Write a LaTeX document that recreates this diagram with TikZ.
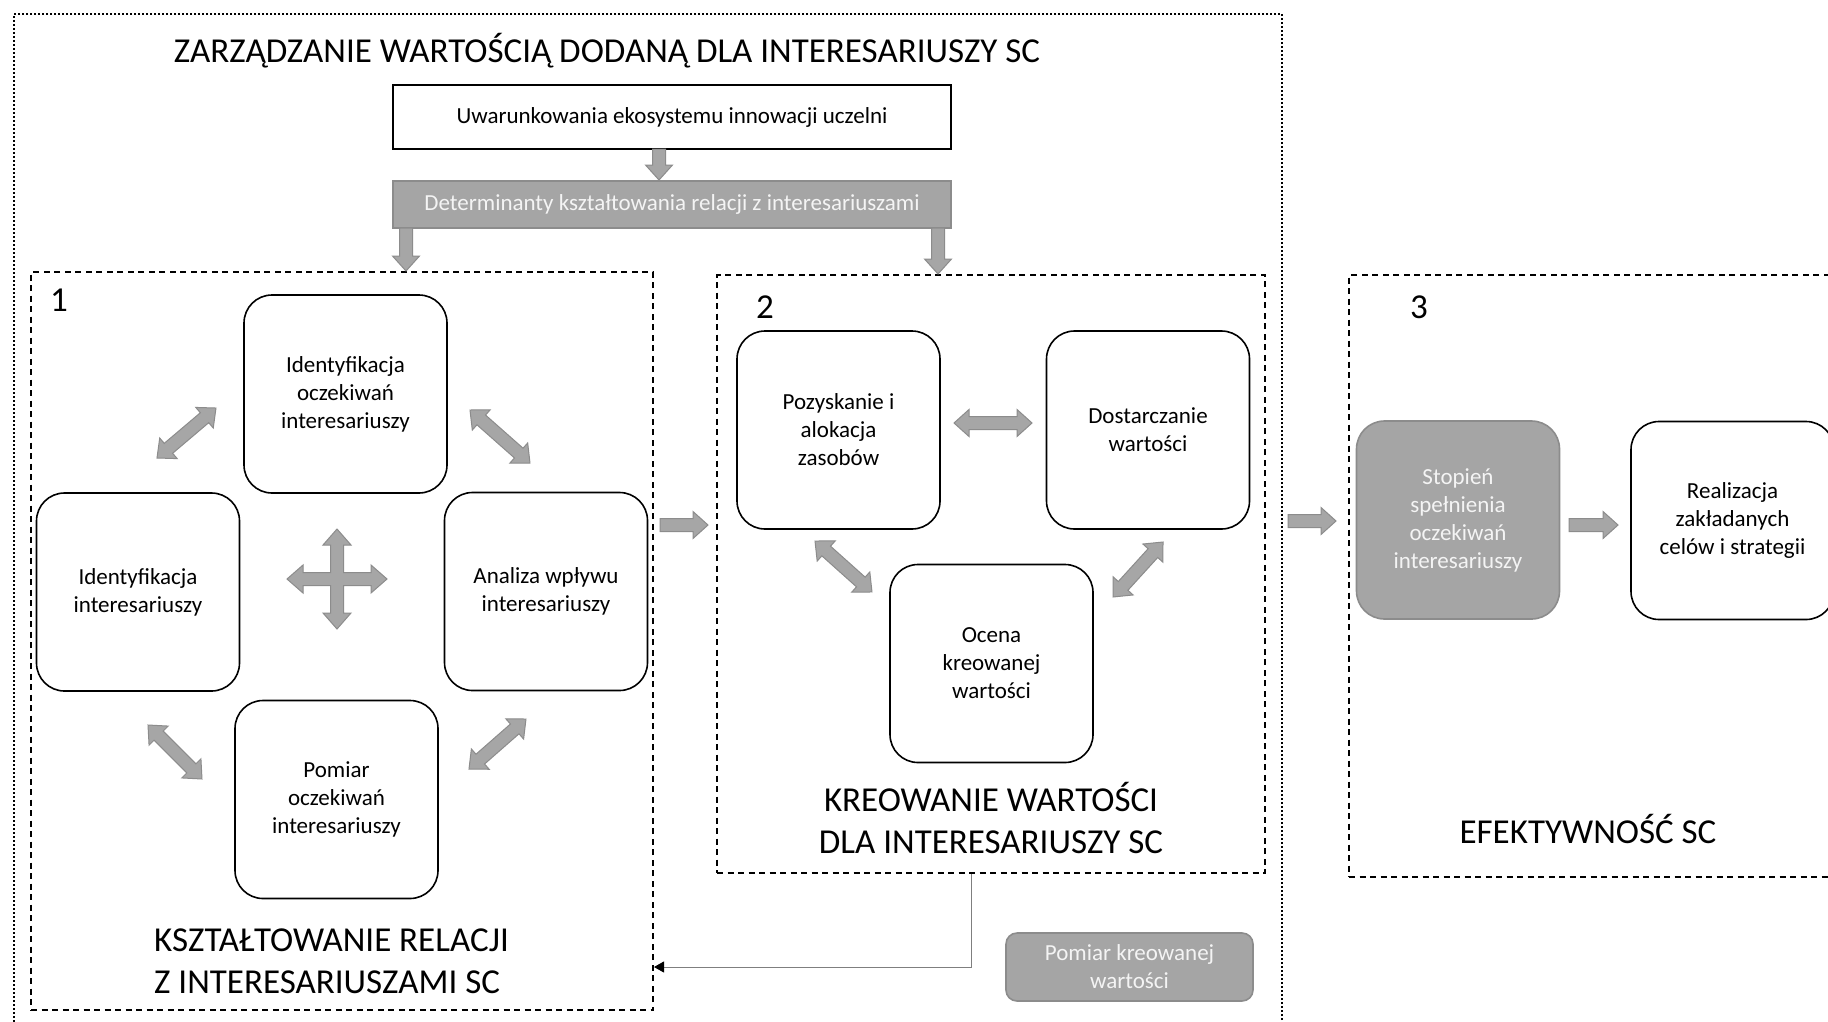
\documentclass[tikz,border=0pt]{standalone}
\usepackage{fontspec}
\setmainfont{Carlito}
\usetikzlibrary{arrows.meta,calc}
\definecolor{agray}{HTML}{A6A6A6}
\definecolor{aborder}{HTML}{8C8C8C}
\definecolor{bgray}{HTML}{A5A5A5}
\definecolor{wtext}{HTML}{F4F4F4}
\definecolor{cline}{HTML}{7F7F7F}
\newcommand\nodefont{\fontsize{23pt}{28pt}\selectfont}
\newcommand\bigfont{\fontsize{35pt}{42pt}\selectfont}
\def\sw{6.5}\def\hw{13.5}\def\hl{15}
\newcommand\blkstart[2]{%
 \path (#1); \pgfgetlastxy{\ax}{\ay}%
 \path (#2); \pgfgetlastxy{\bx}{\by}%
 \pgfmathsetmacro\aang{atan2((\by)-(\ay),(\bx)-(\ax))}%
 \pgfmathsetmacro\alen{veclen((\bx)-(\ax),(\by)-(\ay))}%
 \pgfmathsetmacro\abase{\alen-\hl}}
\newcommand\sarrow[2]{\blkstart{#1}{#2}%
 \path[blk, shift={(#1)}, rotate=\aang] (0pt,-\sw pt) -- (\abase pt,-\sw pt) -- (\abase pt,-\hw pt) -- (\alen pt,0pt) -- (\abase pt,\hw pt) -- (\abase pt,\sw pt) -- (0pt,\sw pt) -- cycle;}
\newcommand\darrow[2]{\blkstart{#1}{#2}%
 \path[blk, shift={(#1)}, rotate=\aang] (0pt,0pt) -- (\hl pt,\hw pt) -- (\hl pt,\sw pt) -- (\abase pt,\sw pt) -- (\abase pt,\hw pt) -- (\alen pt,0pt) -- (\abase pt,-\hw pt) -- (\abase pt,-\sw pt) -- (\hl pt,-\sw pt) -- (\hl pt,-\hw pt) -- cycle;}
\newcommand\crossarrow[1]{%
 \path[blk, shift={(#1)}] (50,0) -- (34,14) -- (34,6.5) -- (6.5,6.5) -- (6.5,34) -- (14,34) -- (0,50) -- (-14,34) -- (-6.5,34) -- (-6.5,6.5) -- (-34,6.5) -- (-34,14) -- (-50,0) -- (-34,-14) -- (-34,-6.5) -- (-6.5,-6.5) -- (-6.5,-34) -- (-14,-34) -- (0,-50) -- (14,-34) -- (6.5,-34) -- (6.5,-6.5) -- (34,-6.5) -- (34,-14) -- cycle;}
\tikzset{
 rbox/.style={draw=black, line width=1.6pt, rounded corners=28pt, minimum width=203pt, minimum height=198pt, align=center, font=\nodefont, inner sep=0pt, fill=white},
 gbox/.style={rbox, fill=bgray, draw=aborder, text=wtext},
 grp/.style={draw=black, line width=1.5pt, dash pattern=on 6pt off 4.5pt, inner sep=0pt},
 blk/.style={fill=agray, draw=aborder, line width=1pt, line join=miter},
 big/.style={font=\bigfont, align=center, inner sep=0pt},
 numlab/.style={font=\bigfont, inner sep=0pt},
 plainbox/.style={draw=black, line width=1.6pt, font=\nodefont, inner sep=0pt, minimum width=558pt},
 graybar/.style={fill=bgray, draw=aborder, line width=1.2pt, text=wtext, font=\nodefont, inner sep=0pt, minimum width=558pt},
 conn/.style={draw=cline, line width=1pt, -{Triangle[length=10pt,width=11pt,color=black]}}
}
\begin{document}
\begin{tikzpicture}[x=1pt,y=-1pt]
\useasboundingbox (0,0) rectangle (1828,1021);
\clip (0,0) rectangle (1828,1021);
\fill[white] (0,0) rectangle (1828,1021);
% outer dotted frame
\node[draw=black, line width=2pt, dash pattern=on 2pt off 2pt, minimum width=1268pt, minimum height=1026pt, inner sep=0pt] (outer) at (648,527) {};
\node[big] (title) at (607,51) {ZARZĄDZANIE WARTOŚCIĄ DODANĄ DLA INTERESARIUSZY SC};
\node[plainbox, minimum height=64pt, text height=17pt, text depth=5pt] (uwar) at (672,117) {Uwarunkowania ekosystemu innowacji uczelni};
\node[graybar, minimum height=47pt, text height=17pt, text depth=5pt] (det) at (672,204.5) {Determinanty kształtowania relacji z interesariuszami};
% group boxes
\node[grp, minimum width=622pt, minimum height=738pt] (box1) at (342,641) {};
\node[grp, minimum width=548pt, minimum height=598pt] (box2) at (991,574) {};
\node[grp, minimum width=501pt, minimum height=602pt] (box3) at (1599.5,576) {};
\node[numlab] (n1) at (59,300) {1};
\node[numlab] (n2) at (765,307) {2};
\node[numlab] (n3) at (1419,307) {3};
% group 1
\node[rbox] (t1) at (345.5,394) {Identyfikacja\\oczekiwań\\interesariuszy};
\node[rbox] (l1) at (138,592) {Identyfikacja\\interesariuszy};
\node[rbox] (r1) at (546,591.5) {Analiza wpływu\\interesariuszy};
\node[rbox] (b1) at (336.5,799.5) {Pomiar\\oczekiwań\\interesariuszy};
\node[big, anchor=west, align=left] (lab1) at (154,961) {KSZTAŁTOWANIE RELACJI\\Z INTERESARIUSZAMI SC};
% group 2
\node[rbox] (p2) at (838.5,430) {Pozyskanie i\\alokacja\\zasobów};
\node[rbox] (d2) at (1148,430) {Dostarczanie\\wartości};
\node[rbox] (o2) at (991.5,663.5) {Ocena\\kreowanej\\wartości};
\node[big] (lab2) at (991,818) {KREOWANIE WARTOŚCI\\DLA INTERESARIUSZY SC};
% group 3
\node[gbox] (s3) at (1458,520) {Stopień\\spełnienia\\oczekiwań\\interesariuszy};
\node[rbox] (r3) at (1732.5,520.5) {Realizacja\\zakładanych\\celów i strategii};
\node[big] (lab3) at (1588,829) {EFEKTYWNOŚĆ SC};
% measurement box
\node[graybar, rounded corners=11pt, minimum width=247pt, minimum height=68pt, align=center, line width=1.6pt] (pomk) at (1129.5,967) {Pomiar kreowanej\\wartości};
% block arrows
\sarrow{659,149}{659,180}
\sarrow{406,228}{406,271}
\sarrow{938,228}{938,274}
\sarrow{660,525}{708,525}
\sarrow{1288,521}{1336,521}
\sarrow{1569,525}{1618,525}
\darrow{157,458}{216,408}
\darrow{470,410}{530,463}
\darrow{148,725}{202,779}
\darrow{469,769}{526,719}
\crossarrow{337,579}
\darrow{954,423}{1032,423}
\darrow{815,541}{872,592}
\darrow{1163,542}{1113,597}
% feedback connector
\coordinate (fbk) at (654,967);
\draw[conn] ([xshift=-20pt]box2.south) |- (fbk);
\end{tikzpicture}
\end{document}
